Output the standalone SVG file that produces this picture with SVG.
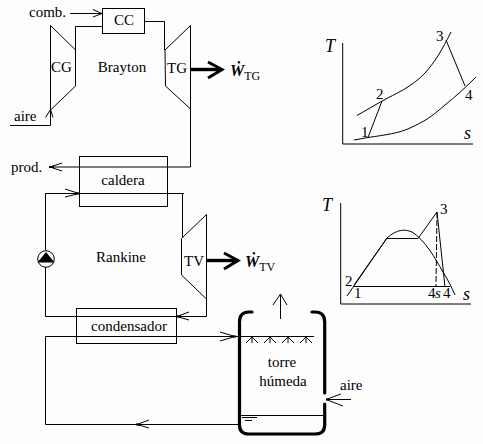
<svg xmlns="http://www.w3.org/2000/svg" width="483" height="444" viewBox="0 0 483 444">
<style>
text{font-family:"Liberation Serif","Times New Roman",serif;font-size:15px;fill:#000}
.m{text-anchor:middle}
.i{font-style:italic;font-size:18px}
.wd{font-style:italic;font-size:16px;font-weight:bold}
.sub{font-size:12px}
.l{fill:none;stroke:#000;stroke-width:1}
.b{fill:none;stroke:#000;stroke-width:1}
.tip{fill:none;stroke:#000;stroke-width:2.2}
.t{fill:none;stroke:#000;stroke-width:3.2;stroke-linecap:round}
.w{fill:none;stroke:#000;stroke-width:3.4}
.tw{fill:none;stroke:#000;stroke-width:3}
</style>
<rect width="483" height="444" fill="#fdfdfd"/>
<g id="connectors">
<path class="l" d="M70 13.500H102M93 9.500L102 13.500L93 17"/>
<path class="l" d="M75.500 50V26.500H102.500"/>
<path class="l" d="M144.500 21.500H164.500V50"/>
<path class="l" d="M10 125.500H50.500V110M45.500 117.500L50.500 109.500L53 117.500"/>
<path class="l" d="M190.500 109V167H50M62 163L50 167L62 171"/>
<path class="tip" d="M49 167H54M75 193.500H79M177 316.500H181M232 336.500H236M136 424.500H140M326 399.500H329"/>
<path class="l" d="M45.500 250V193.500H184M182.500 193.500V238"/>
<path class="l" d="M65 189L79 193.500L65 197"/>
<path class="l" d="M45.500 267V316.500H206.500V299"/>
<path class="l" d="M189 312L177 316.500L189 320"/>
<path class="l" d="M238 336.500H45.500V424.500H240"/>
<path class="l" d="M220 332L235 336.500L220 341"/>
<path class="l" d="M149 420L137 424.500L149 428"/>
<path class="w" d="M190 69.500H221"/>
<path class="tw" d="M208 62L222 69.500L208 78"/>
<path class="w" d="M206.500 260.500H238"/>
<path class="tw" d="M224 253L238 260.500L224 269"/>
<path class="l" d="M280.500 319V294M273 305L280.500 294L287 305"/>
<path class="l" d="M351 399.500H326M341 394L326 399.500L343 406"/>
</g>
<g id="cc"><rect class="b" x="102.500" y="8.500" width="42" height="25"/><text class="m" x="124" y="25">CC</text></g>
<g id="cg"><path class="b" d="M50.500 25.500L75.500 50V86L50.500 110Z"/><text x="51" y="72">CG</text></g>
<g id="tg"><path class="b" d="M165 50L190.500 25.500V109L165.500 86Z"/><text x="167" y="73">TG</text></g>
<g id="caldera"><rect class="b" x="79.500" y="156.500" width="88" height="50"/><text class="m" x="123" y="185">caldera</text></g>
<g id="tv"><path class="b" d="M181.500 238.500L206.500 214.500V299L181.500 275Z"/><text x="184" y="266">TV</text></g>
<g id="pump"><circle class="b" cx="46" cy="259" r="8.300"/><path d="M37.500 262.500L46 252L54.500 262.500Z" fill="#000"/></g>
<g id="condensador"><rect class="b" x="76.500" y="308.500" width="100" height="35"/><text class="m" x="129" y="331">condensador</text></g>
<g id="torre">
<path class="t" d="M252 312H249Q239.500 312 239.500 322V425Q239.500 434 249 434H315Q324.700 434 324.700 425V404M324.700 393V322Q324.700 312 315 312H312"/>
<path class="l" d="M238 336.500H314M240 415.500H323M242 417.500H257M245 420.500H252"/>
<path class="l" d="M246 343L252 337L258 343M252 337V343M264 343L270 337L276 343M270 337V343M282 343L288 337L294 343M288 337V343M300 343L306 337L312 343M306 337V343"/>
<text class="m" x="282" y="367">torre</text><text class="m" x="283" y="386">húmeda</text>
</g>
<g id="labels">
<text x="29" y="17">comb.</text>
<text x="14" y="121">aire</text>
<text x="11" y="172">prod.</text>
<text class="m" x="122" y="72">Brayton</text>
<text class="m" x="121" y="262">Rankine</text>
<text x="340" y="390">aire</text>
<text x="230" y="76"><tspan class="wd">Ẇ</tspan><tspan class="sub" dy="4">TG</tspan></text>
<text x="245" y="267"><tspan class="wd">Ẇ</tspan><tspan class="sub" dy="4">TV</tspan></text>
</g>
<g id="ts-brayton">
<path class="l" d="M342.700 43V144H473"/>
<path class="l" d="M354 140L368 137.500C385 135 400 133 410 128C425 121 430 118 445 105C455 97 465 88 476 77"/>
<path class="l" d="M357 115.500L382 101C395 94 412 87 425 73C435 62 442 50 451 32"/>
<path class="l" d="M368 137.500L382 101M446 40L465 86"/>
<text class="i" x="325" y="52">T</text><text class="i" x="464" y="139">s</text>
<text x="361" y="137">1</text><text x="376" y="99">2</text><text x="436" y="41">3</text><text x="465" y="100">4</text>
</g>
<g id="ts-rankine">
<path class="l" d="M340.700 203V304H471"/>
<path class="l" d="M347 296L387 238C397 229 405 229 412 232C425 240 435 258 443 272C448 280 452 288 455 295"/>
<path class="l" d="M354 285L387 238M387 238.500H418L437 212L445 287M353 286.500H450"/>
<path class="l" d="M437 212L436 286.500" stroke-dasharray="6 2"/>
<text class="i" x="322" y="211">T</text><text class="i" x="463" y="300">s</text>
<text x="345" y="286">2</text><text x="354" y="298">1</text><text x="428" y="298" style="letter-spacing:-.5px">4<tspan font-style="italic">s</tspan></text><text x="443" y="298">4</text><text x="440" y="214">3</text>
</g>
</svg>
